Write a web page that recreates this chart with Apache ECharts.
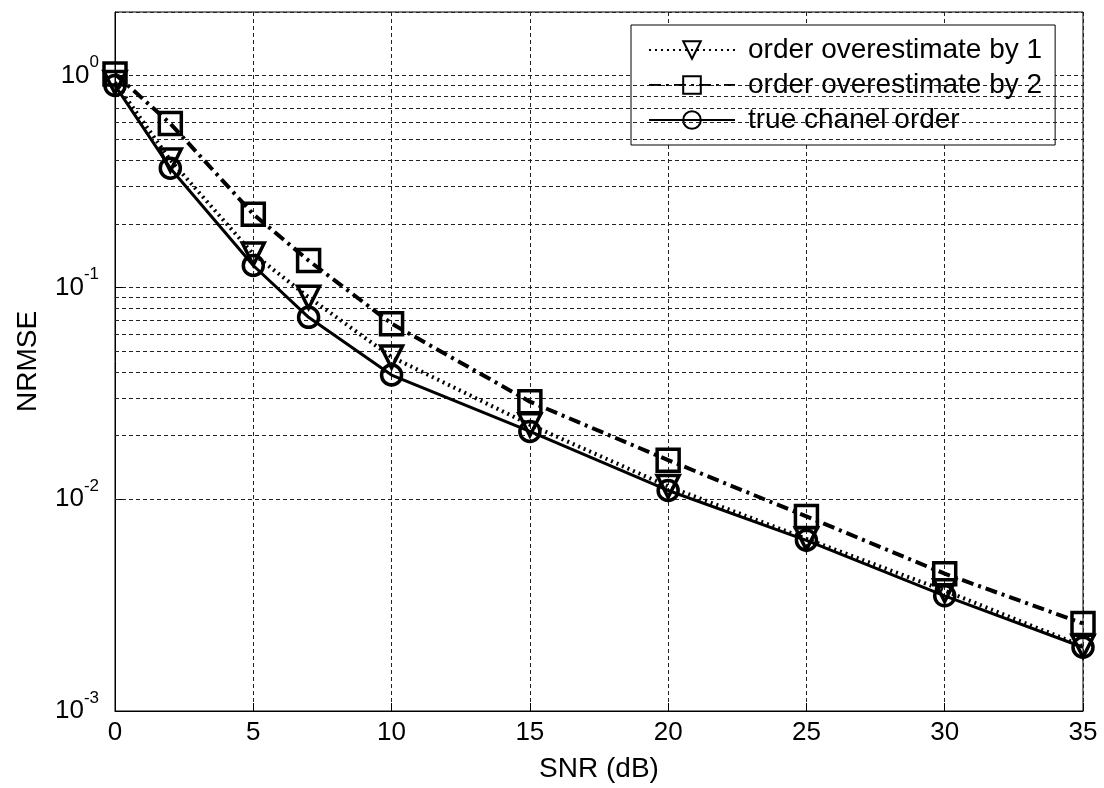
<!DOCTYPE html>
<html>
<head>
<meta charset="utf-8">
<script src="https://cdn.jsdelivr.net/npm/echarts@6/dist/echarts.min.js"></script>
<style>
  html, body { margin: 0; padding: 0; background: #fff; }
  #chart { width: 1104px; height: 788px; }
</style>
</head>
<body>
<div id="chart"></div>
<script>
// SNR points (dB)
const snr = [0, 2, 5, 7, 10, 15, 20, 25, 30, 35];

// NRMSE for each estimator
const overBy1 = [0.93, 0.40, 0.144, 0.090, 0.047, 0.0225, 0.0115, 0.0065, 0.0037, 0.00202];
const overBy2 = [1.02, 0.595, 0.222, 0.134, 0.0675, 0.0289, 0.0153, 0.0083, 0.00445, 0.00259];
const trueOrder = [0.90, 0.366, 0.127, 0.0723, 0.0386, 0.0209, 0.0110, 0.0064, 0.0035, 0.00200];

const seriesNames = ['order overestimate by 1', 'order overestimate by 2', 'true chanel order'];

// x ticks and y decades
const xTicks = [0, 5, 10, 15, 20, 25, 30, 35];
const yDecades = [0.001, 0.01, 0.1, 1];
const decadeExponents = ['-3', '-2', '-1', '0'];

// minor log grid: mantissas 2..9 in every decade
const minorMantissas = [2, 3, 4, 5, 6, 7, 8, 9];
const minorDecades = [0.001, 0.01, 0.1];

const FONT = '"Liberation Sans", Arial, Helvetica, sans-serif';
const gridDash = [4, 3];
const gridColor = '#222';

const minorGridValues = [];
minorDecades.forEach(d => minorMantissas.forEach(m => minorGridValues.push(+(m * d).toPrecision(3))));

const toPairs = ys => snr.map((x, i) => [x, ys[i]]);

function decadeLabel(v) {
  for (let i = 0; i < yDecades.length; i++) {
    if (Math.abs(v - yDecades[i]) / yDecades[i] < 1e-6) {
      return '{base|10}{sup|' + decadeExponents[i] + '}';
    }
  }
  return '';
}

const chart = echarts.init(document.getElementById('chart'), null, { renderer: 'canvas' });

const markerStyle = { color: 'rgba(255,255,255,0)', borderColor: '#000', borderWidth: 3.5 };

chart.setOption({
  backgroundColor: '#fff',
  animation: false,
  textStyle: { fontFamily: FONT, color: '#000' },
  grid: {
    left: 115, top: 12, right: 21, bottom: 75,
    show: true, borderColor: '#000', borderWidth: 1, backgroundColor: '#fff'
  },
  xAxis: {
    type: 'value',
    min: 0, max: 35, interval: 5,
    name: 'SNR (dB)',
    nameLocation: 'middle',
    nameGap: 44,
    nameTextStyle: { fontSize: 28, fontFamily: FONT, color: '#000' },
    axisLine: { lineStyle: { color: '#000', width: 1 } },
    axisTick: { inside: true, length: 8, lineStyle: { color: '#000' } },
    axisLabel: {
      fontSize: 26, fontFamily: FONT, color: '#000', margin: 9,
      formatter: v => (xTicks.indexOf(v) >= 0 ? String(v) : '')
    },
    splitLine: { show: true, lineStyle: { type: gridDash, color: gridColor, width: 1 } }
  },
  yAxis: {
    type: 'log',
    logBase: 10,
    min: 0.001, max: 2,
    name: 'NRMSE',
    nameLocation: 'middle',
    nameGap: 73,
    nameRotate: 90,
    nameTextStyle: { fontSize: 28, fontFamily: FONT, color: '#000' },
    axisLine: { lineStyle: { color: '#000', width: 1 } },
    axisTick: { inside: true, length: 8, lineStyle: { color: '#000' } },
    axisLabel: {
      margin: 16,
      showMaxLabel: false,
      formatter: decadeLabel,
      rich: {
        base: { fontSize: 26, fontFamily: FONT, color: '#000' },
        sup: { fontSize: 17, fontFamily: FONT, color: '#000', padding: [0, 0, 26, 0] }
      }
    },
    splitLine: { show: true, lineStyle: { type: gridDash, color: gridColor, width: 1 } }
  },
  legend: {
    data: seriesNames,
    orient: 'vertical',
    left: 631, top: 25,
    backgroundColor: '#fff',
    borderColor: '#000', borderWidth: 1,
    padding: [11, 13, 11, 17],
    itemGap: 7,
    itemWidth: 86, itemHeight: 22,
    textStyle: { fontSize: 28, fontFamily: FONT, color: '#000', padding: [0, 0, 0, 8] }
  },
  series: [
    {
      name: 'minor grid',
      type: 'line',
      data: [],
      silent: true,
      markLine: {
        silent: true,
        symbol: 'none',
        label: { show: false },
        lineStyle: { type: gridDash, color: gridColor, width: 1 },
        data: minorGridValues.map(v => ({ yAxis: v }))
      }
    },
    {
      name: seriesNames[0],
      type: 'line',
      data: toPairs(overBy1),
      symbol: 'triangle',
      symbolRotate: 180,
      symbolSize: 22,
      lineStyle: { color: '#000', width: 4, type: [2, 4] },
      itemStyle: markerStyle,
      z: 5
    },
    {
      name: seriesNames[1],
      type: 'line',
      data: toPairs(overBy2),
      symbol: 'rect',
      symbolSize: 22,
      lineStyle: { color: '#000', width: 4, type: [12, 5, 3, 5] },
      itemStyle: markerStyle,
      z: 6
    },
    {
      name: seriesNames[2],
      type: 'line',
      data: toPairs(trueOrder),
      symbol: 'circle',
      symbolSize: 20,
      lineStyle: { color: '#000', width: 3, type: 'solid' },
      itemStyle: markerStyle,
      z: 7
    }
  ]
});
</script>
</body>
</html>
